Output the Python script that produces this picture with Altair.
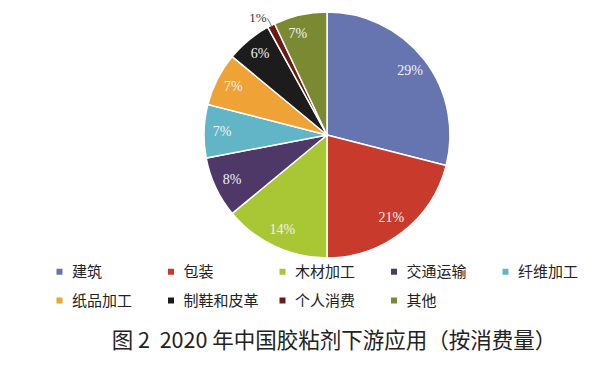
import altair as alt
import pandas as pd

categories = ["建筑", "包装", "木材加工", "交通运输", "纤维加工", "纸品加工", "制鞋和皮革", "个人消费", "其他"]
shares = [29, 21, 14, 8, 7, 7, 6, 1, 7]
colors = ["#6675b0", "#c83a2c", "#a9c735", "#4d3868", "#62b5c6", "#efa236", "#1c1c1c", "#6a1c14", "#7b8a32"]
title_text = "图 2\u00a0\u00a02020 年中国胶粘剂下游应用（按消费量）"

df = pd.DataFrame({"category": categories, "value": shares})

CX, CY, R = 319, 127, 123

base = alt.Chart(df).transform_window(
    idx="row_number()"
).transform_calculate(
    label="datum.value + '%'"
)

theta = alt.Theta("value:Q", stack=True)
order = alt.Order("idx:Q")

pie = base.mark_arc(stroke="white", strokeWidth=1.5).encode(
    theta=theta,
    order=order,
    x=alt.value(CX), y=alt.value(CY), radius=alt.value(R),
    color=alt.Color(
        "category:N",
        scale=alt.Scale(domain=categories, range=colors),
        legend=alt.Legend(
            title=None, orient="none", legendX=44, legendY=256,
            direction="horizontal",
            columns=5, gridAlign="all", columnPadding=15.5, rowPadding=13,
            symbolType="square", symbolSize=36, symbolStrokeWidth=0,
            labelFont="Noto Sans CJK SC", labelFontSize=15, labelColor="#222222",
            labelOffset=5,
        ),
    ),
)

inner = base.transform_filter("datum.value >= 2").mark_text(
    font="Liberation Serif", fontSize=14, color="#f2f2f2"
).encode(
    theta=theta, order=order,
    x=alt.value(CX), y=alt.value(CY), radius=alt.value(105),
    text="label:N",
)

# small slice label outside
outer = base.mark_text(
    font="Liberation Serif", fontSize=13, color="#333333", align="right", dy=2
).encode(
    theta=theta, order=order,
    x=alt.value(CX), y=alt.value(CY), radius=alt.value(133),
    text="label:N",
    opacity=alt.condition("datum.value < 2", alt.value(1), alt.value(0)),
)

leader = alt.Chart(df).transform_window(
    idx="row_number()"
).transform_joinaggregate(
    total="sum(value)"
).transform_window(
    cum="sum(value)", sort=[alt.SortField("idx")], frame=[None, 0]
).transform_calculate(
    ang="(datum.cum - datum.value / 2) / datum.total * 2 * PI",
).transform_calculate(
    x1=f"{CX} + 122 * sin(datum.ang)",
    y1=f"{CY} - 122 * cos(datum.ang)",
    x2=f"{CX} + 131 * sin(datum.ang)",
    y2=f"{CY} - 131 * cos(datum.ang)",
).transform_filter("datum.value < 2").mark_rule(color="#555555", strokeWidth=0.8).encode(
    x=alt.X("x1:Q", scale=None), y=alt.Y("y1:Q", scale=None),
    x2="x2:Q", y2="y2:Q",
)

title = alt.Chart(pd.DataFrame({"t": [title_text]})).mark_text(
    font="Noto Sans CJK SC", fontSize=21.5, color="#222222"
).encode(
    x=alt.value(326), y=alt.value(334), text="t:N"
)

chart = alt.layer(pie, inner, outer, leader, title).properties(
    width=599, height=357, padding=0,
    autosize=alt.AutoSizeParams(type="none"),
    background="white",
).configure_view(stroke=None)

chart.save("out.html", embed_options={"renderer": "svg", "actions": False})
